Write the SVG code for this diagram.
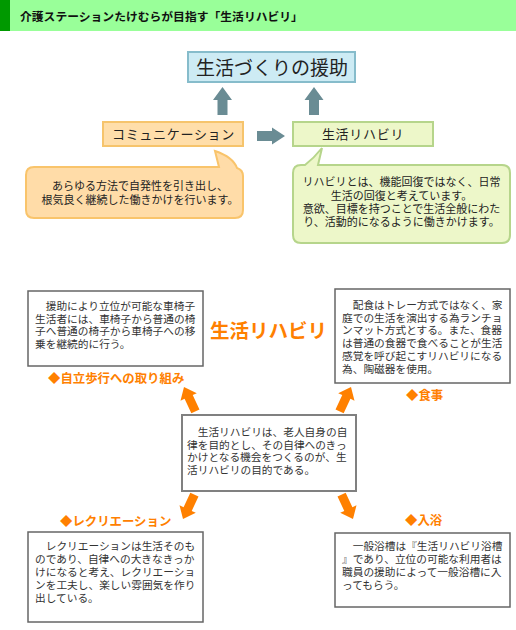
<svg xmlns="http://www.w3.org/2000/svg" width="516" height="630" viewBox="0 0 516 630">
<style>
text{font-family:"Noto Sans CJK JP","Noto Sans",sans-serif;}
.hd{font-size:11.8px;font-weight:bold;fill:#111;}
.lbl{font-size:13px;fill:#222;letter-spacing:0.7px;text-anchor:middle;}
.bub{font-size:11px;fill:#222;text-anchor:middle;}
.body{font-size:10.7px;fill:#333;}
.or{font-size:12.4px;font-weight:bold;fill:#FF8000;}
.box{fill:#fff;stroke:#666;stroke-width:1.5;}
.garr{fill:#6A8C94;}
.oarr{fill:#FF8000;}
</style>
<defs>
<path id="ga" d="M0,0 L9.5,13 L5,13 L5,28 L-5,28 L-5,13 L-9.5,13 Z"/>
<path id="oa" d="M0,0 L9,11 L4.5,11 L4.5,27 L-4.5,27 L-4.5,11 L-9,11 Z"/>
</defs>
<rect width="516" height="630" fill="#fff"/>
<g id="header">
<rect x="0" y="0" width="516" height="31" fill="#99FF99"/>
<rect x="0" y="0" width="10" height="31" fill="#009900"/>
<text class="hd" x="20" y="20.5">介護ステーションたけむらが目指す「生活リハビリ」</text>
</g>
<g id="connectors">
<use href="#ga" class="garr" transform="translate(222.5,87)"/>
<use href="#ga" class="garr" transform="translate(314,87)"/>
<path class="garr" d="M285,136 L272,127.5 L272,131 L257,131 L257,141 L272,141 L272,144.5 Z"/>
<use href="#oa" class="oarr" transform="translate(184,387) rotate(-25)"/>
<use href="#oa" class="oarr" transform="translate(351,387) rotate(25)"/>
<use href="#oa" class="oarr" transform="translate(183,519) rotate(-155)"/>
<use href="#oa" class="oarr" transform="translate(353,519) rotate(155)"/>
</g>
<g id="goal">
<rect x="188" y="52" width="167" height="30" fill="#CDEBF4" stroke="#86BCCB" stroke-width="2"/>
<text x="272" y="75" font-size="19" fill="#222" text-anchor="middle">生活づくりの援助</text>
</g>
<g id="communication">
<rect x="103" y="122" width="140" height="24" fill="#FFDEAA" stroke="#F6C46C" stroke-width="2"/>
<text class="lbl" x="173.5" y="139">コミュニケーション</text>
</g>
<g id="rehab">
<rect x="293" y="122" width="140" height="24" fill="#EDF7C9" stroke="#B6D58B" stroke-width="2"/>
<text class="lbl" x="363" y="139">生活リハビリ</text>
</g>
<g id="comm-bubble">
<path d="M34,167 H219 L215,151 Q233,157 237,168 Q243,170 243,176 V210 Q243,218 235,218 H34 Q26,218 26,210 V175 Q26,167 34,167 Z" fill="#FFDCA8" stroke="#F9C46B" stroke-width="2"/>
<text class="bub"><tspan x="140" y="189.5">あらゆる方法で自発性を引き出し、</tspan><tspan x="140" y="204">根気良く継続した働きかけを行います。</tspan></text>
</g>
<g id="rehab-bubble">
<path d="M301,165 H305 Q314,158 322,148 L318,165 H502 Q510,165 510,173 V235 Q510,243 502,243 H301 Q293,243 293,235 V173 Q293,165 301,165 Z" fill="#EDF7C9" stroke="#B6D58B" stroke-width="2"/>
<text class="bub"><tspan x="401.5" y="186">リハビリとは、機能回復ではなく、日常</tspan><tspan x="401.5" y="200">生活の回復と考えています。</tspan><tspan x="401.5" y="213">意欲、目標を持つことで生活全般にわた</tspan><tspan x="401.5" y="226">り、活動的になるように働きかけます。</tspan></text>
</g>
<g id="title-rehab">
<text x="210" y="338" font-size="19.5" font-weight="bold" fill="#FF8000">生活リハビリ</text>
</g>
<g id="walking">
<rect class="box" x="28" y="291" width="175" height="75"/>
<text class="body"><tspan x="35" y="310">　援助により立位が可能な車椅子</tspan><tspan x="35" y="322.7">生活者には、車椅子から普通の椅</tspan><tspan x="35" y="335.4">子へ普通の椅子から車椅子への移</tspan><tspan x="35" y="348.1">乗を継続的に行う。</tspan></text>
<text class="or" x="48" y="382.5">◆自立歩行への取り組み</text>
</g>
<g id="meal">
<rect class="box" x="335" y="289" width="175" height="94"/>
<text class="body"><tspan x="342" y="309">　配食はトレー方式ではなく、家</tspan><tspan x="342" y="321.7">庭での生活を演出する為ランチョ</tspan><tspan x="342" y="334.4">ンマット方式とする。また、食器</tspan><tspan x="342" y="347.1">は普通の食器で食べることが生活</tspan><tspan x="342" y="359.8">感覚を呼び起こすリハビリになる</tspan><tspan x="342" y="372.5">為、陶磁器を使用。</tspan></text>
<text class="or" x="406" y="399.5">◆食事</text>
</g>
<g id="center">
<rect x="182" y="415" width="174" height="76" fill="#fff" stroke="#808080" stroke-width="2"/>
<text class="body"><tspan x="187" y="436">　生活リハビリは、老人自身の自</tspan><tspan x="187" y="448.6">律を目的とし、その自律へのきっ</tspan><tspan x="187" y="461.2">かけとなる機会をつくるのが、生</tspan><tspan x="187" y="473.8">活リハビリの目的である。</tspan></text>
</g>
<g id="recreation">
<text class="or" x="60" y="525.5">◆レクリエーション</text>
<rect class="box" x="28" y="532" width="175" height="90"/>
<text class="body"><tspan x="35" y="550">　レクリエーションは生活そのも</tspan><tspan x="35" y="563">のであり、自律への大きなきっか</tspan><tspan x="35" y="576">けになると考え、レクリエーショ</tspan><tspan x="35" y="589">ンを工夫し、楽しい雰囲気を作り</tspan><tspan x="35" y="602">出している。</tspan></text>
</g>
<g id="bath">
<text class="or" x="405" y="524.5">◆入浴</text>
<rect class="box" x="335" y="533" width="175" height="74"/>
<text class="body"><tspan x="342" y="550">　一般浴槽は『生活リハビリ浴槽</tspan><tspan x="342" y="563">』であり、立位の可能な利用者は</tspan><tspan x="342" y="576">職員の援助によって一般浴槽に入</tspan><tspan x="342" y="589">ってもらう。</tspan></text>
</g>
</svg>
